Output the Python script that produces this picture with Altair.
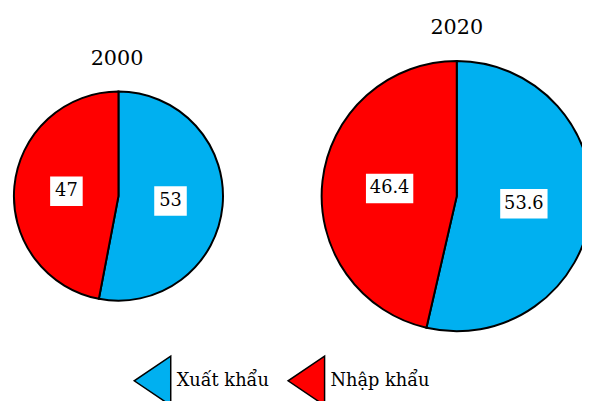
import altair as alt
import pandas as pd

# ---- data ----
nam = ["2000", "2020"]
loai = ["Xuất khẩu", "Nhập khẩu"]
ty_le_2000 = [53, 47]
ty_le_2020 = [53.6, 46.4]
mau = ["#00B0F0", "#FF0000"]

FONT = "DejaVu Serif"

color_scale = alt.Scale(domain=loai, range=mau)
legend = alt.Legend(
    orient="none", legendX=127, legendY=355.5, direction="horizontal",
    title=None, padding=0,
    symbolType="M1,-1.35L1,1.35L-1,0Z", symbolSize=1369,
    symbolStrokeColor="black", symbolStrokeWidth=1.5, symbolOpacity=1,
    labelFont=FONT, labelFontSize=18, labelColor="black", labelOffset=5,
    labelLimit=0, columnPadding=16,
)


def pie(year, values, cx, cy, R, box_half_w, title_x, title_y, show_legend):
    df = pd.DataFrame({
        "loai": loai,
        "ty_le": values,
        "thu_tu": list(range(len(loai))),
        "nam": [year] * len(loai),
    })
    base = alt.Chart(df)
    color = alt.Color("loai:N", scale=color_scale,
                      legend=legend if show_legend else None)
    arc = base.mark_arc(outerRadius=R, stroke="black", strokeWidth=2).encode(
        theta=alt.Theta("ty_le:Q", stack=True),
        color=color,
        order=alt.Order("thu_tu:O"),
        x=alt.value(cx),
        y=alt.value(cy),
    )
    lab = (
        base.transform_joinaggregate(tong="sum(ty_le)")
        .transform_window(cum="sum(ty_le)", sort=[{"field": "thu_tu"}], frame=[None, 0])
        .transform_calculate(goc="2*PI*(datum.cum - datum.ty_le/2)/datum.tong")
        .transform_calculate(lx="0.5*sin(datum.goc)", ly="-0.5*cos(datum.goc)")
    )
    xs = alt.X("lx:Q", scale=alt.Scale(domain=[-1, 1], range=[cx - R, cx + R], nice=False, zero=False), axis=None)
    ys = alt.Y("ly:Q", scale=alt.Scale(domain=[-1, 1], range=[cy - R, cy + R], nice=False, zero=False), axis=None)
    w = box_half_w
    box = lab.mark_point(
        shape=f"M-{w},-1L{w},-1L{w},1L-{w},1Z", size=900,
        filled=True, fill="white", opacity=1, strokeWidth=0,
    ).encode(x=xs, y=ys)
    txt = lab.mark_text(font=FONT, fontSize=18, color="black",
                        align="center", baseline="middle").encode(
        x=xs, y=ys, text=alt.Text("ty_le:Q"))
    ttl = alt.Chart(pd.DataFrame({"nam": [year]})).mark_text(
        font=FONT, fontSize=21, color="black", align="center", baseline="middle"
    ).encode(x=alt.value(title_x), y=alt.value(title_y), text="nam:N")
    return alt.layer(arc, box, txt, ttl)


p1 = pie(nam[0], ty_le_2000, 112, 188, 106, 1.1, 110.5, 49.5, True)
p2 = pie(nam[1], ty_le_2020, 455, 188, 137, 1.6, 455, 18, False)

chart = (
    alt.layer(p1, p2)
    .resolve_scale(x="independent", y="independent", theta="independent")
    .properties(width=582, height=393, autosize=alt.AutoSizeParams(type="none"),
                padding=0, background="white")
    .configure_view(stroke=None)
)

chart.save("out.html", embed_options={"renderer": "svg", "actions": False})
